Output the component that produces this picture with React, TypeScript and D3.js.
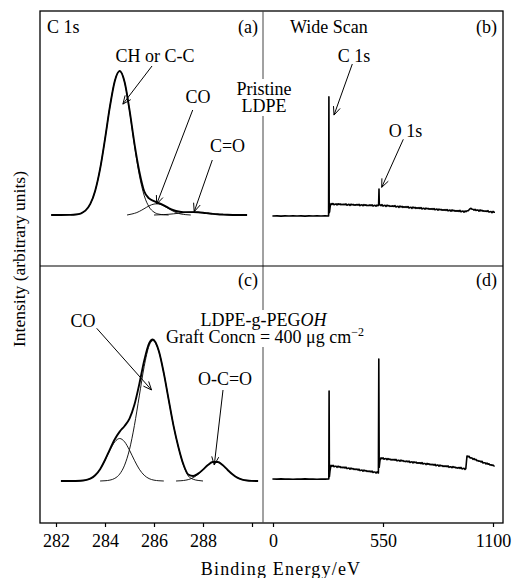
import React, { useEffect, useRef } from "react";
import * as d3 from "d3";

// C 1s, pristine LDPE: envelope and fitted components  [binding energy eV, intensity]
const pristineEnvelope = [
  [281.8, 0], [282.2, 0], [282.6, 0.1], [282.8, 0.3], [283.0, 1.0], [283.2, 3.0], [283.4, 7.7],
  [283.6, 16.9], [283.8, 32], [284.0, 52.7], [284.2, 75.2], [284.4, 93.1], [284.6, 100],
  [284.8, 92.3], [285.0, 73.0], [285.2, 49.8], [285.4, 30.3], [285.6, 16.5], [285.8, 11.5],
  [286.0, 9.6], [286.2, 8.3], [286.4, 6.7], [286.6, 4.8], [286.8, 3.3], [287.0, 2.4], [287.2, 2.0],
  [287.4, 2.0], [287.6, 2.0], [287.8, 1.9], [288.0, 1.6], [288.2, 1.2], [288.4, 0.8], [288.6, 0.5],
  [288.8, 0.3], [289.0, 0.15], [289.4, 0], [289.8, 0],
];
const pristineCH = [
  [282.6, 0.1], [282.8, 0.3], [283.0, 1.0], [283.2, 3.0], [283.4, 7.7], [283.6, 16.9], [283.8, 32],
  [284.0, 52.7], [284.2, 75.2], [284.4, 93.1], [284.6, 100], [284.8, 92.3], [285.0, 72.6],
  [285.2, 48.7], [285.4, 27.8], [285.6, 13.5], [285.8, 5.6], [286.0, 2.0], [286.2, 0.6],
  [286.4, 0.15], [286.6, 0],
];
const pristineCO = [
  [284.9, 0], [285.1, 0.7], [285.3, 1.7], [285.5, 3.4], [285.7, 5.4], [285.9, 7.1], [286.1, 7.8],
  [286.3, 7.1], [286.5, 5.4], [286.7, 3.4], [286.9, 1.7], [287.1, 0.7], [287.3, 0.24], [287.5, 0],
];
const pristineCdO = [
  [286.0, 0], [286.2, 0.13], [286.4, 0.27], [286.6, 0.5], [286.8, 0.82], [287.0, 1.21], [287.2, 1.6],
  [287.4, 1.89], [287.6, 2.0], [287.8, 1.89], [288.0, 1.6], [288.2, 1.21], [288.4, 0.82],
  [288.6, 0.5], [288.8, 0.27], [289.0, 0.13], [289.2, 0],
];

// Wide scan, pristine LDPE
const pristineWide = [
  [-3, -0.7], [20, -0.6], [40, -0.8], [60, -0.6], [80, -0.7], [100, -0.5], [120, -0.7], [140, -0.6],
  [160, -0.8], [180, -0.6], [200, -0.7], [220, -0.5], [240, -0.7], [260, -0.6], [278, -0.7],
  [279.5, 82], [281, 1.5], [283, 2.3], [286, 6.0],
  [290, 7.9], [295, 7.4], [300, 8.0], [305, 7.1], [310, 7.5], [315, 7.7], [320, 7.0], [325, 7.8],
  [330, 7.3], [335, 7.7], [340, 7.1], [345, 7.4], [350, 7.1], [355, 7.6], [360, 7.1], [365, 7.7],
  [370, 6.8], [375, 7.2], [380, 7.4], [385, 6.7], [390, 7.5], [395, 7.0], [400, 7.4], [405, 6.8],
  [410, 7.1], [415, 6.8], [420, 7.3], [425, 6.8], [430, 7.4], [435, 6.5], [440, 6.9], [445, 7.1],
  [450, 6.4], [455, 7.2], [460, 6.7], [465, 7.1], [470, 6.5], [475, 6.8], [480, 6.5], [485, 7.0],
  [490, 6.5], [495, 7.1], [500, 6.2], [505, 6.6], [510, 6.8], [515, 6.1], [520, 6.9], [525, 6.4],
  [528, 6.8], [530, 18], [531.5, 7.4],
  [535, 7.1], [540, 6.5], [545, 7.2], [550, 6.2], [555, 6.6], [560, 6.7], [565, 6.0], [570, 6.8],
  [575, 6.3], [580, 6.6], [585, 6.0], [590, 6.3], [595, 6.0], [600, 6.4], [605, 5.9], [610, 6.5],
  [615, 5.6], [620, 5.9], [625, 6.1], [630, 5.3], [635, 6.2], [640, 5.6], [645, 6.0], [650, 5.3],
  [655, 5.7], [660, 5.3], [665, 5.8], [670, 5.2], [675, 5.9], [680, 4.9], [685, 5.2], [690, 5.4],
  [695, 4.6], [700, 5.5], [705, 4.9], [710, 5.3], [715, 4.6], [720, 5.0], [725, 4.6], [730, 5.1],
  [735, 4.5], [740, 5.2], [745, 4.2], [750, 4.6], [755, 4.7], [760, 4.0], [765, 4.8], [770, 4.3],
  [775, 4.6], [780, 4.0], [785, 4.3], [790, 4.0], [795, 4.4], [800, 3.9], [805, 4.5], [810, 3.6],
  [815, 3.9], [820, 4.1], [825, 3.3], [830, 4.1], [835, 3.6], [840, 3.9], [845, 3.3], [850, 3.6],
  [855, 3.3], [860, 3.7], [865, 3.2], [870, 3.8], [875, 2.9], [880, 3.2], [885, 3.4], [890, 2.6],
  [895, 3.5], [900, 2.9], [905, 3.3], [910, 2.6], [915, 3.0], [920, 2.6], [925, 3.1], [930, 2.5],
  [935, 3.2], [940, 2.2], [945, 2.6], [950, 2.7], [955, 2.0], [960, 2.8], [965, 2.3], [970, 2.9],
  [975, 2.9], [980, 3.6], [985, 4.4], [990, 4.6], [995, 4.0],
  [1000, 4.0], [1005, 3.4], [1010, 4.0], [1015, 3.1], [1020, 3.4], [1025, 3.5], [1030, 2.7],
  [1035, 3.5], [1040, 2.9], [1045, 3.3], [1050, 2.6], [1055, 2.9], [1060, 2.5], [1065, 2.9],
  [1070, 2.4], [1075, 3.0], [1080, 2.0], [1085, 2.3], [1090, 2.4], [1095, 1.6], [1100, 2.5],
  [1105, 1.9], [1110, 1.9],
];

// C 1s, LDPE-g-PEGOH
const graftEnvelope = [
  [282.2, 0], [282.6, 0], [283.0, 0.18], [283.2, 0.59], [283.4, 1.65], [283.6, 4.0], [283.8, 8.2],
  [284.0, 14.6], [284.2, 22.0], [284.4, 29.0], [284.6, 34.3], [284.8, 38.2], [285.0, 43.3],
  [285.2, 52.9], [285.4, 67.3], [285.6, 83.6], [285.8, 95.6], [285.95, 98.3], [286.2, 90.1],
  [286.4, 74.9], [286.6, 56.3], [286.8, 38.1], [287.0, 23.3], [287.2, 11.5], [287.4, 4.5],
  [287.6, 3.5], [287.8, 5.1], [288.0, 7.9], [288.2, 11.1], [288.4, 13.2], [288.6, 13.2],
  [288.8, 11.1], [289.0, 7.8], [289.2, 4.7], [289.4, 2.3], [289.6, 1.0], [289.8, 0.35],
  [290.0, 0.1], [290.25, 0],
];
const graftCH = [
  [282.8, 0], [283.0, 0.18], [283.2, 0.59], [283.4, 1.65], [283.6, 4.0], [283.8, 8.2], [284.0, 14.4],
  [284.2, 21.4], [284.4, 27.2], [284.6, 29.5], [284.8, 27.2], [285.0, 21.4], [285.2, 14.4],
  [285.4, 8.2], [285.6, 4.0], [285.8, 1.65], [286.0, 0.59], [286.2, 0.18], [286.4, 0],
];
const graftCO = [
  [283.8, 0], [284.0, 0.18], [284.2, 0.62], [284.4, 1.84], [284.6, 4.8], [284.8, 11.0], [285.0, 21.9],
  [285.2, 38.5], [285.4, 59.1], [285.6, 79.6], [285.8, 93.9], [285.95, 97.5], [286.2, 89.9],
  [286.4, 74.9], [286.6, 56.3], [286.8, 38.1], [287.0, 23.2], [287.2, 11.2], [287.4, 3.5],
  [287.6, 1.2], [287.8, 0.4], [288.0, 0],
];
const graftOCO = [
  [286.9, 0], [287.1, 0.19], [287.3, 0.59], [287.5, 1.54], [287.7, 3.4], [287.9, 6.2], [288.1, 9.5],
  [288.3, 12.4], [288.5, 13.5], [288.7, 12.4], [288.9, 9.5], [289.1, 6.2], [289.3, 3.4],
  [289.5, 1.54], [289.7, 0.59], [289.9, 0.19], [290.1, 0],
];

// Wide scan, LDPE-g-PEGOH
const graftWide = [
  [-3, 1.4], [20, 1.3], [40, 1.5], [60, 1.3], [80, 1.4], [100, 1.2], [120, 1.4], [140, 1.3],
  [160, 1.5], [180, 1.3], [200, 1.4], [220, 1.2], [240, 1.4], [260, 1.3], [279, 1.4],
  [280.5, 62.5], [282, 3.0], [285, 7.0],
  [290, 10.9], [295, 10.3], [300, 10.9], [305, 9.9], [310, 10.2], [315, 10.3], [320, 9.5],
  [325, 10.3], [330, 9.7], [335, 10.0], [340, 9.3], [345, 9.6], [350, 9.2], [355, 9.6], [360, 9.0],
  [365, 9.6], [370, 8.6], [375, 8.9], [380, 9.0], [385, 8.2], [390, 9.0], [395, 8.4], [400, 8.7],
  [405, 8.0], [410, 8.3], [415, 7.9], [420, 8.3], [425, 7.6], [430, 8.2], [435, 7.2], [440, 7.5],
  [445, 7.6], [450, 6.8], [455, 7.6], [460, 7.0], [465, 7.3], [470, 6.6], [475, 6.9], [480, 6.5],
  [485, 6.9], [490, 6.3], [495, 6.9], [500, 5.9], [505, 6.2], [510, 6.3], [515, 5.5], [520, 6.3],
  [525, 5.7], [527, 5.6], [529, 84.7], [531, 9.5], [535, 14.5],
  [540, 16.1], [545, 15.5], [550, 16.1], [555, 15.1], [560, 15.5], [565, 15.6], [570, 14.8],
  [575, 15.6], [580, 15.0], [585, 15.3], [590, 14.6], [595, 15.0], [600, 14.6], [605, 15.0],
  [610, 14.4], [615, 15.0], [620, 14.0], [625, 14.3], [630, 14.4], [635, 13.7], [640, 14.5],
  [645, 13.9], [650, 14.2], [655, 13.5], [660, 13.8], [665, 13.4], [670, 13.9], [675, 13.3],
  [680, 13.9], [685, 12.9], [690, 13.2], [695, 13.3], [700, 12.5], [705, 13.3], [710, 12.8],
  [715, 13.1], [720, 12.4], [725, 12.7], [730, 12.3], [735, 12.7], [740, 12.1], [745, 12.8],
  [750, 11.8], [755, 12.1], [760, 12.2], [765, 11.4], [770, 12.2], [775, 11.6], [780, 12.0],
  [785, 11.3], [790, 11.6], [795, 11.2], [800, 11.6], [805, 11.0], [810, 11.6], [815, 10.6],
  [820, 11.0], [825, 11.1], [830, 10.3], [835, 11.1], [840, 10.5], [845, 10.8], [850, 10.1],
  [855, 10.5], [860, 10.1], [865, 10.5], [870, 9.9], [875, 10.5], [880, 9.5], [885, 9.8],
  [890, 9.9], [895, 9.2], [900, 10.0], [905, 9.4], [910, 9.7], [915, 9.0], [920, 9.3], [925, 8.9],
  [930, 9.4], [935, 8.8], [940, 9.4], [945, 8.4], [950, 8.7], [955, 8.8], [960, 8.0], [964, 8.5],
  [967, 13], [970, 17.4],
  [975, 16.8], [980, 17.2], [985, 16.0], [990, 16.1], [995, 16.0], [1000, 15.0], [1005, 15.6],
  [1010, 14.8], [1015, 15.0], [1020, 14.1], [1025, 14.2], [1030, 13.7], [1035, 13.9], [1040, 13.2],
  [1045, 13.7], [1050, 12.5], [1055, 12.7], [1060, 12.7], [1065, 11.8], [1070, 12.5], [1075, 11.7],
  [1080, 11.9], [1085, 11.1], [1090, 11.3], [1095, 10.8], [1100, 11.1], [1105, 10.4], [1108, 10.6],
];

const c1sTicks = [282, 284, 286, 288, 290];
const wideTicks = [0, 550, 1100];

const W = 513;
const H = 578;
const FONT = '"Liberation Serif", "Times New Roman", serif';

export default function App() {
  const ref = useRef<SVGSVGElement>(null);

  useEffect(() => {
    const svg = d3.select(ref.current);
    svg.selectAll("*").remove();

    const xC1s = d3.scaleLinear().domain([282, 290]).range([56, 252]);
    const xWide = d3.scaleLinear().domain([0, 1100]).range([273, 493]);
    const yTop = d3.scaleLinear().domain([0, 100]).range([215, 71]);
    const yBot = d3.scaleLinear().domain([0, 100]).range([481, 337]);

    const curve = (data, x, y, width, smooth) => {
      const line = d3.line<number[]>()
        .x(d => x(d[0]))
        .y(d => y(d[1]))
        .curve(smooth ? d3.curveMonotoneX : d3.curveLinear);
      svg.append("path")
        .datum(data)
        .attr("d", line)
        .attr("fill", "none")
        .attr("stroke", "#000")
        .attr("stroke-width", width)
        .attr("stroke-linejoin", "round");
    };

    // frame
    svg.append("rect")
      .attr("x", 40).attr("y", 11).attr("width", 463).attr("height", 512)
      .attr("fill", "none").attr("stroke", "#000").attr("stroke-width", 1.3);
    svg.append("line")
      .attr("x1", 263).attr("x2", 263).attr("y1", 11).attr("y2", 523)
      .attr("stroke", "#444").attr("stroke-width", 1);
    svg.append("line")
      .attr("x1", 40).attr("x2", 503).attr("y1", 266).attr("y2", 266)
      .attr("stroke", "#000").attr("stroke-width", 1.2);
    // white boxes go here so they only hide the divider, not text or data
    const knock = svg.append("g");

    // spectra
    [pristineCH, pristineCO, pristineCdO].forEach(d => curve(d, xC1s, yTop, 0.9, true));
    curve(pristineEnvelope, xC1s, yTop, 1.9, true);
    curve(pristineWide, xWide, yTop, 1.6, false);
    [graftCH, graftCO, graftOCO].forEach(d => curve(d, xC1s, yBot, 0.9, true));
    curve(graftEnvelope, xC1s, yBot, 1.9, true);
    curve(graftWide, xWide, yBot, 1.6, false);

    // axes
    const styleAxis = g => {
      g.select(".domain").remove();
      g.selectAll("line").attr("stroke", "#000").attr("stroke-width", 1.2);
      g.selectAll("text").attr("font-family", FONT).attr("font-size", 18).attr("fill", "#000");
    };
    svg.append("g")
      .attr("transform", "translate(0,523)")
      .call(d3.axisBottom(xC1s).tickValues(c1sTicks)
        .tickFormat(d => (d === 290 ? "" : String(d)))
        .tickSize(4).tickSizeOuter(0).tickPadding(7))
      .call(styleAxis);
    svg.append("g")
      .attr("transform", "translate(0,523)")
      .call(d3.axisBottom(xWide).tickValues(wideTicks)
        .tickFormat(d => String(d))
        .tickSize(4).tickSizeOuter(0).tickPadding(7))
      .call(styleAxis);

    const label = (x, y, text, anchor = "middle", size = 18) =>
      svg.append("text")
        .attr("x", x).attr("y", y)
        .attr("text-anchor", anchor)
        .attr("font-family", FONT)
        .attr("font-size", size)
        .attr("fill", "#000")
        .text(text);

    const knockout = t => {
      const b = (t.node() as SVGTextElement).getBBox();
      knock.append("rect")
        .attr("x", b.x - 1).attr("y", b.y)
        .attr("width", b.width + 2).attr("height", b.height)
        .attr("fill", "#fff");
    };

    label(281, 575, "Binding Energy/eV").attr("letter-spacing", 1.2);
    svg.append("text")
      .attr("transform", "translate(25,259) rotate(-90)")
      .attr("text-anchor", "middle")
      .attr("font-family", FONT)
      .attr("font-size", 17.5)
      .text("Intensity (arbitrary units)");

    // panel labels
    label(47, 33, "C 1s", "start");
    label(258, 33, "(a)", "end");
    label(290, 33, "Wide Scan", "start");
    label(497, 33, "(b)", "end");
    label(258, 286, "(c)", "end");
    label(497, 286, "(d)", "end");

    // annotations
    label(155, 62, "CH or C-C");
    label(198, 103, "CO");
    label(227.5, 152, "C=O");
    knockout(label(264, 95, "Pristine"));
    knockout(label(264, 112, "LDPE"));
    label(354, 62, "C 1s");
    label(405.5, 137, "O 1s");
    label(83, 327, "CO");
    label(225, 385, "O-C=O");

    const t1 = label(263.5, 326, "LDPE-g-PEG");
    t1.append("tspan").attr("font-style", "italic").text("OH");
    knockout(t1);
    const t2 = label(265, 343, "Graft Concn = 400 \u03bcg cm");
    t2.append("tspan").attr("dy", -7).attr("font-size", 12).text("\u22122");
    knockout(t2);

    const arrow = (x1, y1, x2, y2) => {
      const a = Math.atan2(y2 - y1, x2 - x1);
      const len = 9;
      const spread = 0.4;
      const g = svg.append("g").attr("stroke", "#000").attr("stroke-width", 1).attr("fill", "none");
      g.append("line").attr("x1", x1).attr("y1", y1).attr("x2", x2).attr("y2", y2);
      g.append("polyline").attr("points", [
        [x2 - len * Math.cos(a - spread), y2 - len * Math.sin(a - spread)],
        [x2, y2],
        [x2 - len * Math.cos(a + spread), y2 - len * Math.sin(a + spread)],
      ].map(p => p.join(",")).join(" "));
    };

    arrow(152, 66, xC1s(284.73), yTop(77));
    arrow(192.7, 110, xC1s(286.11), yTop(7.6));
    arrow(212.3, 160, xC1s(287.64), yTop(2.3));
    arrow(352.3, 64, xWide(305), yTop(69.4));
    arrow(403.3, 139.3, xWide(543.5), yTop(19.2));
    arrow(96.7, 328.3, xC1s(285.9), yBot(63.2));
    arrow(223, 390, xC1s(288.46), yBot(11.1));
  }, []);

  return (
    <svg
      ref={ref}
      width={W}
      height={H}
      style={{ position: "absolute", left: 0, top: 0, background: "#fff" }}
    />
  );
}
